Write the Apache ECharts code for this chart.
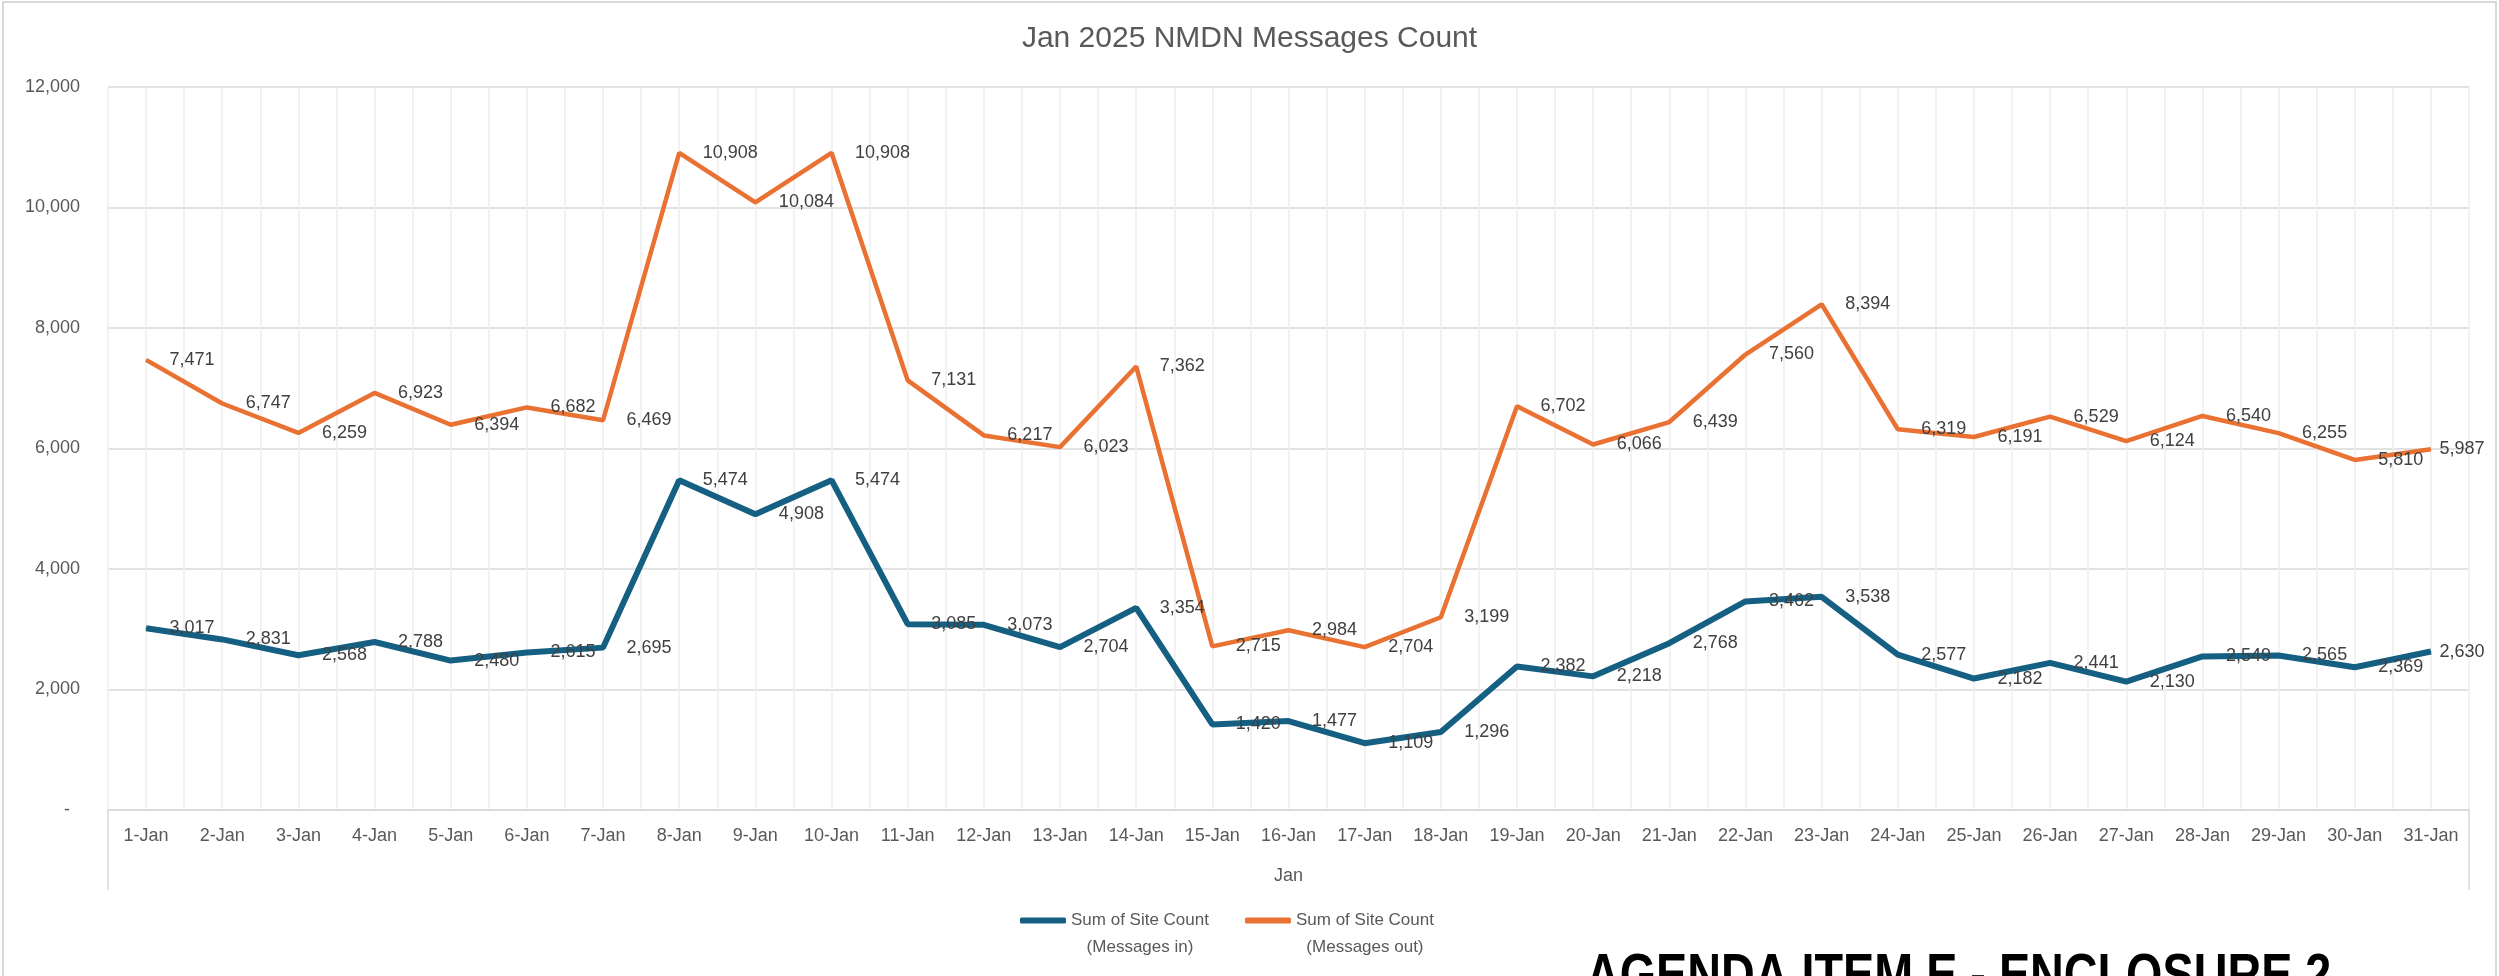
<!DOCTYPE html>
<html>
<head>
<meta charset="utf-8">
<title>Jan 2025 NMDN Messages Count</title>
<script src="https://cdn.jsdelivr.net/npm/echarts@6/dist/echarts.min.js"></script>
<style>
  html, body { margin: 0; padding: 0; background: #fff; }
  #chart { width: 2499px; height: 976px; }
</style>
</head>
<body>
<div id="chart"></div>
<script>
// chart data
const days = [
  '1-Jan', '2-Jan', '3-Jan', '4-Jan', '5-Jan', '6-Jan', '7-Jan', '8-Jan', '9-Jan', '10-Jan',
  '11-Jan', '12-Jan', '13-Jan', '14-Jan', '15-Jan', '16-Jan', '17-Jan', '18-Jan', '19-Jan', '20-Jan',
  '21-Jan', '22-Jan', '23-Jan', '24-Jan', '25-Jan', '26-Jan', '27-Jan', '28-Jan', '29-Jan', '30-Jan', '31-Jan'
]
const messagesIn = [
  3017, 2831, 2568, 2788, 2480, 2615, 2695, 5474, 4908, 5474,
  3085, 3073, 2704, 3354, 1420, 1477, 1109, 1296, 2382, 2218,
  2768, 3462, 3538, 2577, 2182, 2441, 2130, 2549, 2565, 2369, 2630
]
const messagesOut = [
  7471, 6747, 6259, 6923, 6394, 6682, 6469, 10908, 10084, 10908,
  7131, 6217, 6023, 7362, 2715, 2984, 2704, 3199, 6702, 6066,
  6439, 7560, 8394, 6319, 6191, 6529, 6124, 6540, 6255, 5810, 5987
]
const seriesNames = ['Sum of Site Count (Messages in)', 'Sum of Site Count (Messages out)']
const legendLines = {
  'Sum of Site Count (Messages in)': ['Sum of Site Count', '(Messages in)'],
  'Sum of Site Count (Messages out)': ['Sum of Site Count', '(Messages out)']
}

const FONT = "'Liberation Sans', Arial, sans-serif"
const W = 2499
const H = 976
const gridLeft = 108
const gridRight = 30
const gridTop = 87
const gridBottom = 166
const plotRight = W - gridRight
const axisY = H - gridBottom

// half-category slots, only used to draw the light vertical gridlines
const halfSlots = days.flatMap(d => [d + ' a', d + ' b'])

// last label sits closer to its point so it stays inside the chart
const withLabels = arr => arr.map((v, i) =>
  i === arr.length - 1 ? { value: v, label: { distance: 8 } } : v)

const chart = echarts.init(document.getElementById('chart'))

const lineSeries = (name, data, color, width) => ({
  name,
  type: 'line',
  data: withLabels(data),
  symbol: 'circle',
  symbolSize: 1,
  showSymbol: true,
  lineStyle: { color, width },
  itemStyle: { color },
  label: {
    show: true,
    position: 'right',
    distance: 23,
    color: '#404040',
    fontSize: 18,
    fontFamily: FONT,
    formatter: p => echarts.format.addCommas(p.value)
  },
  emphasis: { disabled: true }
})

const option = {
  backgroundColor: '#ffffff',
  animation: false,
  textStyle: { fontFamily: FONT },
  title: {
    text: 'Jan 2025 NMDN Messages Count',
    left: 'center',
    top: 24,
    padding: 0,
    textStyle: { fontSize: 30, fontWeight: 'normal', color: '#595959', fontFamily: FONT }
  },
  grid: { left: gridLeft, right: gridRight, top: gridTop, bottom: gridBottom },
  legend: {
    data: seriesNames,
    left: 1020,
    top: 880,
    padding: 0,
    icon: 'roundRect',
    itemWidth: 46,
    itemHeight: 6,
    itemGap: 36,
    formatter: name => '{e| }\n{a|' + legendLines[name][0] + '}\n{a|' + legendLines[name][1] + '}',
    textStyle: {
      color: '#595959',
      fontSize: 17,
      lineHeight: 27,
      rich: {
        a: { color: '#595959', fontSize: 17, lineHeight: 27, align: 'center', fontFamily: FONT },
        e: { fontSize: 17, lineHeight: 27 }
      }
    }
  },
  xAxis: [
    {
      type: 'category',
      data: days,
      boundaryGap: true,
      axisLine: { lineStyle: { color: '#d9d9d9', width: 1.5 } },
      axisTick: { show: false },
      axisLabel: { color: '#595959', fontSize: 18, margin: 17, interval: 0, fontFamily: FONT },
      splitLine: { show: false },
      name: 'Jan',
      nameLocation: 'middle',
      nameGap: 57,
      nameTextStyle: { color: '#595959', fontSize: 18, fontFamily: FONT }
    },
    {
      type: 'category',
      data: halfSlots,
      position: 'bottom',
      boundaryGap: true,
      axisLine: { show: false },
      axisTick: { show: false },
      axisLabel: { show: false },
      splitLine: { show: true, interval: 0, lineStyle: { color: '#eeeeee', width: 1.5 } }
    }
  ],
  yAxis: {
    type: 'value',
    min: 0,
    max: 12000,
    interval: 2000,
    axisLine: { show: false },
    axisTick: { show: false },
    axisLabel: {
      color: '#595959',
      fontSize: 18,
      margin: 28,
      fontFamily: FONT,
      formatter: v => v === 0 ? '-  ' : echarts.format.addCommas(v)
    },
    splitLine: { lineStyle: { color: '#d9d9d9', width: 1.5 } }
  },
  graphic: [
    {
      type: 'rect',
      shape: { x: 3, y: 2, width: W - 6, height: H + 40 },
      style: { fill: 'none', stroke: '#d9d9d9', lineWidth: 2 },
      silent: true
    },
    {
      type: 'line',
      shape: { x1: gridLeft, y1: axisY, x2: gridLeft, y2: axisY + 80 },
      style: { stroke: '#d9d9d9', lineWidth: 1.5 },
      silent: true
    },
    {
      type: 'line',
      shape: { x1: plotRight, y1: axisY, x2: plotRight, y2: axisY + 80 },
      style: { stroke: '#d9d9d9', lineWidth: 1.5 },
      silent: true
    },
    {
      // document stamp overlapping the bottom edge, condensed heavy caps
      type: 'text',
      x: 1586,
      y: 950,
      scaleX: 0.82,
      style: {
        text: 'AGENDA ITEM E - ENCLOSURE 2',
        fill: '#000000',
        fontSize: 57,
        fontWeight: 'bold',
        fontFamily: FONT
      },
      silent: true
    }
  ],
  series: [
    lineSeries(seriesNames[0], messagesIn, '#156082', 6),
    lineSeries(seriesNames[1], messagesOut, '#E97132', 4.5)
  ]
}

chart.setOption(option)

window.addEventListener('resize', () => {
  chart.resize()
})
</script>
</body>
</html>
